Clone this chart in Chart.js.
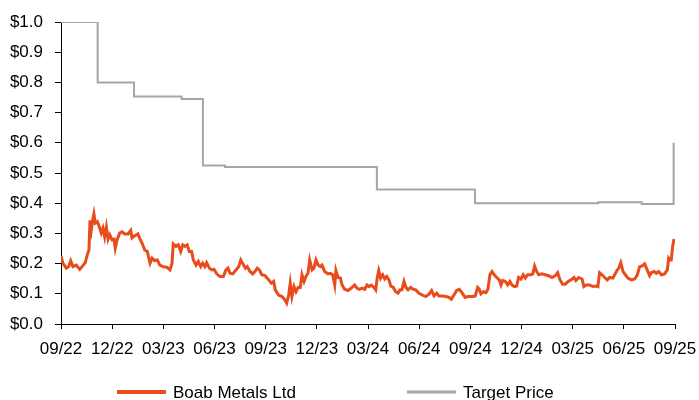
<!DOCTYPE html>
<html><head><meta charset="utf-8">
<script src="https://cdn.jsdelivr.net/npm/chart.js@4/dist/chart.umd.min.js"></script>
<style>html,body{margin:0;padding:0;background:#fff}</style>
</head><body>
<canvas id="c" width="699" height="400"></canvas>
<script>
const tickLabels = ['09/22','12/22','03/23','06/23','09/23','12/23','03/24','06/24','09/24','12/24','03/25','06/25','09/25'];
const seriesNames = ['Boab Metals Ltd','Target Price'];

// months since Sep 2022
const priceMonths = [
0.00,0.12,0.31,0.45,0.57,0.70,0.90,1.10,1.29,1.42,1.54,1.64,1.70,1.78,1.86,1.93,2.01,2.13,2.25,2.36,2.46,2.56,2.66,2.76,2.86,2.99,3.11,3.18,3.30,3.44,3.58,3.73,3.93,4.09,4.16,4.32,4.51,4.63,4.75,4.91,5.06,5.22,5.34,5.49,5.65,5.79,5.98,
6.20,6.39,6.51,6.58,6.74,6.88,7.02,7.14,7.27,7.40,7.52,7.66,7.76,7.92,8.05,8.19,8.31,8.44,8.54,8.70,8.84,8.97,9.13,9.32,9.52,9.67,9.79,9.91,10.07,10.26,10.42,10.54,10.65,10.81,10.92,11.08,11.24,11.37,11.51,11.63,11.77,11.96,
12.18,12.33,12.47,12.56,12.76,12.96,13.12,13.23,13.35,13.44,13.54,13.66,13.78,13.90,14.03,14.13,14.25,14.36,14.48,14.58,14.72,14.83,14.95,15.07,15.20,15.30,15.46,15.65,15.79,15.93,16.05,16.12,16.24,16.38,16.48,16.63,16.83,17.02,17.22,17.35,17.49,17.65,17.81,17.94,
18.06,18.19,18.35,18.45,18.54,18.63,18.74,18.86,18.98,19.10,19.23,19.33,19.48,19.62,19.76,19.88,19.99,20.11,20.23,20.35,20.50,20.66,20.80,20.99,21.18,21.38,21.58,21.73,21.87,22.03,22.16,22.36,22.56,22.75,22.88,23.04,23.20,23.35,23.53,23.69,23.86,
24.14,24.29,24.43,24.53,24.62,24.76,24.92,25.03,25.15,25.27,25.40,25.55,25.70,25.80,25.90,26.05,26.19,26.32,26.44,26.58,26.72,26.83,26.97,27.10,27.22,27.36,27.56,27.66,27.77,27.89,28.01,28.20,28.39,28.59,28.79,28.98,29.12,29.26,29.41,29.57,29.72,29.90,
30.08,30.19,30.35,30.55,30.66,30.80,31.00,31.19,31.39,31.48,31.58,31.72,31.88,32.03,32.17,32.36,32.56,32.70,32.82,32.95,33.09,33.24,33.44,33.64,33.79,33.93,34.06,34.22,34.37,34.51,34.61,34.77,34.90,35.04,35.20,35.39,35.55,35.63,35.71,35.78,35.86,35.94
];
const priceValues = [
0.225,0.201,0.185,0.19,0.209,0.19,0.195,0.181,0.194,0.203,0.229,0.245,0.343,0.312,0.345,0.365,0.334,0.339,0.321,0.301,0.317,0.288,0.321,0.281,0.295,0.279,0.281,0.251,0.281,0.301,0.305,0.298,0.298,0.31,0.285,0.292,0.298,0.281,0.268,0.245,0.24,0.201,0.218,0.21,0.212,0.195,0.19,
0.188,0.179,0.201,0.265,0.257,0.262,0.24,0.262,0.257,0.262,0.24,0.24,0.212,0.195,0.207,0.19,0.201,0.19,0.203,0.185,0.179,0.181,0.166,0.157,0.157,0.179,0.185,0.168,0.166,0.179,0.19,0.212,0.201,0.185,0.19,0.174,0.166,0.174,0.185,0.179,0.163,0.16,
0.146,0.135,0.141,0.113,0.096,0.091,0.08,0.069,0.096,0.135,0.091,0.124,0.107,0.121,0.121,0.163,0.141,0.157,0.168,0.212,0.179,0.185,0.212,0.195,0.19,0.195,0.174,0.166,0.168,0.163,0.129,0.177,0.154,0.152,0.129,0.115,0.111,0.119,0.129,0.119,0.115,0.119,0.115,0.129,
0.124,0.129,0.121,0.113,0.152,0.177,0.152,0.163,0.149,0.157,0.146,0.126,0.121,0.107,0.102,0.113,0.113,0.141,0.121,0.113,0.121,0.115,0.113,0.102,0.096,0.091,0.099,0.111,0.093,0.102,0.093,0.093,0.091,0.088,0.082,0.096,0.111,0.115,0.102,0.088,0.091,
0.091,0.093,0.121,0.115,0.1,0.107,0.104,0.115,0.163,0.174,0.163,0.154,0.146,0.129,0.144,0.141,0.129,0.141,0.129,0.124,0.126,0.154,0.149,0.163,0.152,0.163,0.163,0.166,0.192,0.174,0.163,0.166,0.163,0.16,0.154,0.16,0.17,0.146,0.132,0.132,0.14,0.146,
0.154,0.144,0.154,0.149,0.124,0.129,0.129,0.124,0.126,0.124,0.17,0.163,0.154,0.146,0.154,0.152,0.174,0.185,0.203,0.174,0.163,0.152,0.146,0.149,0.163,0.19,0.192,0.199,0.179,0.16,0.17,0.174,0.168,0.174,0.163,0.166,0.179,0.218,0.212,0.212,0.256,0.281
];
const targetMonths = [0, 2.15, 4.28, 7.07, 8.32, 9.61, 18.52, 24.27, 31.50, 34.05, 35.92];
const targetValues = [1.0, 0.80, 0.753, 0.745, 0.525, 0.52, 0.445, 0.40, 0.403, 0.397, 0.60];

const FONT = "'Liberation Sans', Arial, sans-serif";
const toXY = (xs, ys) => xs.map((x, i) => ({x: x, y: ys[i]}));

const bottomLegend = {
  id: 'bottomLegend',
  afterDraw(chart) {
    const ctx = chart.ctx;
    const xs = [117, 407], widths = [4, 3], y = 392;
    chart.data.datasets.forEach((ds, i) => {
      ctx.save();
      ctx.strokeStyle = ds.borderColor;
      ctx.lineWidth = widths[i];
      ctx.beginPath();
      ctx.moveTo(xs[i], y);
      ctx.lineTo(xs[i] + 49, y);
      ctx.stroke();
      ctx.fillStyle = '#000';
      ctx.font = '17px ' + FONT;
      ctx.textBaseline = 'middle';
      ctx.fillText(ds.label, xs[i] + 56, y + 1);
      ctx.restore();
    });
  }
};

new Chart(document.getElementById('c'), {
  type: 'line',
  data: {
    datasets: [
      { label: seriesNames[0], data: toXY(priceMonths, priceValues), borderColor: '#E84C1C', borderWidth: 3, pointRadius: 0, tension: 0, fill: false },
      { label: seriesNames[1], data: toXY(targetMonths, targetValues), borderColor: '#A6A6A6', borderWidth: 2, pointRadius: 0, stepped: true, fill: false }
    ]
  },
  options: {
    responsive: false,
    animation: false,
    devicePixelRatio: 1,
    layout: { padding: { top: 22, right: 0, bottom: 0, left: 0 } },
    plugins: { legend: { display: false }, tooltip: { enabled: false } },
    scales: {
      x: {
        type: 'linear', min: 0, max: 36,
        afterBuildTicks: s => { s.ticks = tickLabels.map((_, i) => ({ value: i * 3 })); },
        afterFit: s => { s.height = 76; s.paddingRight = 24; s.paddingLeft = 0; },
        ticks: { callback: (v, i) => tickLabels[i], autoSkip: false, maxRotation: 0, color: '#000', font: { family: FONT, size: 17 }, padding: 10 },
        grid: { display: true, drawOnChartArea: false, drawTicks: true, tickLength: 5, color: '#000' },
        border: { display: true, color: '#000', width: 1 }
      },
      y: {
        min: 0, max: 1,
        afterFit: s => { s.width = 61; s.paddingTop = 0; s.paddingBottom = 0; },
        ticks: { stepSize: 0.1, callback: v => '$' + v.toFixed(1), color: '#000', font: { family: FONT, size: 17 }, padding: 12 },
        grid: { display: true, drawOnChartArea: false, drawTicks: true, tickLength: 6, color: '#000' },
        border: { display: true, color: '#000', width: 1 }
      }
    }
  },
  plugins: [bottomLegend]
});
</script>
</body></html>
